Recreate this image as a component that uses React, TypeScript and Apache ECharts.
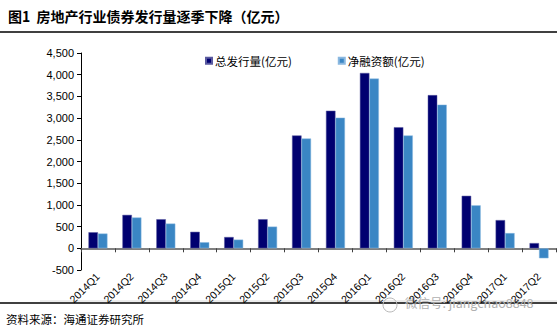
import React, { useEffect, useRef } from "react";
import * as echarts from "echarts";

const categories = ["2014Q1","2014Q2","2014Q3","2014Q4","2015Q1","2015Q2","2015Q3","2015Q4","2016Q1","2016Q2","2016Q3","2016Q4","2017Q1","2017Q2"];
const totalIssuance = [370, 770, 670, 380, 260, 670, 2600, 3170, 4040, 2790, 3530, 1210, 650, 120];
const netFinancing = [340, 710, 570, 140, 200, 500, 2530, 3010, 3910, 2600, 3310, 990, 350, -230];
const seriesNames = ["总发行量(亿元)", "净融资额(亿元)"];

export default function App() {
  const ref = useRef<HTMLDivElement>(null);
  useEffect(() => {
    const chart = echarts.init(ref.current!, undefined, { renderer: "svg" });
    const font = "Arial, 'Liberation Sans', sans-serif";
    chart.setOption({
      animation: false,
      backgroundColor: "#ffffff",
      grid: { left: 81, right: 1, top: 53, bottom: 59, containLabel: false },
      legend: {
        top: 50,
        left: 200,
        itemWidth: 6,
        itemHeight: 6,
        itemGap: 46,
        icon: "rect",
        textStyle: { fontSize: 11.5, color: "#000", fontFamily: "'Noto Sans CJK SC', sans-serif", padding: [0, 0, 0, -2] },
        data: seriesNames,
      },
      xAxis: {
        type: "category",
        data: categories,
        boundaryGap: true,
        axisLine: { onZero: true, lineStyle: { color: "#808080", width: 2 } },
        axisTick: { show: true, length: 4, lineStyle: { color: "#404040" } },
        axisLabel: { rotate: 45, fontSize: 10.5, color: "#000", fontFamily: font, margin: 5, interval: 0 },
      },
      yAxis: {
        type: "value",
        min: -500,
        max: 4500,
        interval: 500,
        splitLine: { show: false },
        axisLine: { show: true, lineStyle: { color: "#000", width: 1 } },
        axisTick: { show: true, inside: false, length: 4, lineStyle: { color: "#000" } },
        axisLabel: {
          fontSize: 11,
          color: "#000",
          fontFamily: font,
          margin: 7,
          formatter: (v: number) => v.toLocaleString("en-US"),
        },
      },
      series: [
        {
          name: seriesNames[0],
          type: "bar",
          data: totalIssuance,
          barWidth: 9.5,
          barGap: "0%",
          itemStyle: { color: "#000070", borderColor: "#5a5aa0", borderWidth: 0.5 },
        },
        {
          name: seriesNames[1],
          type: "bar",
          data: netFinancing,
          barWidth: 9.5,
          barGap: "0%",
          itemStyle: { color: "#3a86c4", borderColor: "#8ab8e0", borderWidth: 0.5 },
        },
      ],
      graphic: [
        {
          type: "text",
          left: 8,
          top: 9,
          style: {
            text: "图1  房地产行业债券发行量逐季下降（亿元）",
            fontSize: 14,
            fontWeight: "bold",
            fill: "#000",
            fontFamily: "'Noto Sans CJK SC', sans-serif",
          },
        },
        { type: "line", shape: { x1: 0, y1: 32, x2: 557, y2: 32 }, style: { stroke: "#000", lineWidth: 1.5 } },
        { type: "line", shape: { x1: 0, y1: 303, x2: 557, y2: 303 }, style: { stroke: "#000", lineWidth: 1.5 } },
        { type: "line", shape: { x1: 40, y1: 301, x2: 557, y2: 301 }, style: { stroke: "#d8d8d8", lineWidth: 1 } },
        {
          type: "text",
          left: 405,
          top: 296,
          style: {
            text: "微信号: jiangchao8848",
            fontSize: 12.5,
            fill: "#b0b0b0",
            fontFamily: "'Noto Sans CJK SC', sans-serif",
          },
        },
        {
          type: "circle",
          shape: { cx: 390, cy: 305, r: 7 },
          style: { fill: "none", stroke: "#b8b8b8", lineWidth: 1 },
        },
        {
          type: "text",
          left: 6,
          top: 313,
          style: {
            text: "资料来源：海通证券研究所",
            fontSize: 11.5,
            fill: "#000",
            fontFamily: "'Noto Sans CJK SC', sans-serif",
          },
        },
      ],
    });
    return () => chart.dispose();
  }, []);
  return <div ref={ref} style={{ width: 557, height: 329, position: "absolute", left: 0, top: 0 }} />;
}
